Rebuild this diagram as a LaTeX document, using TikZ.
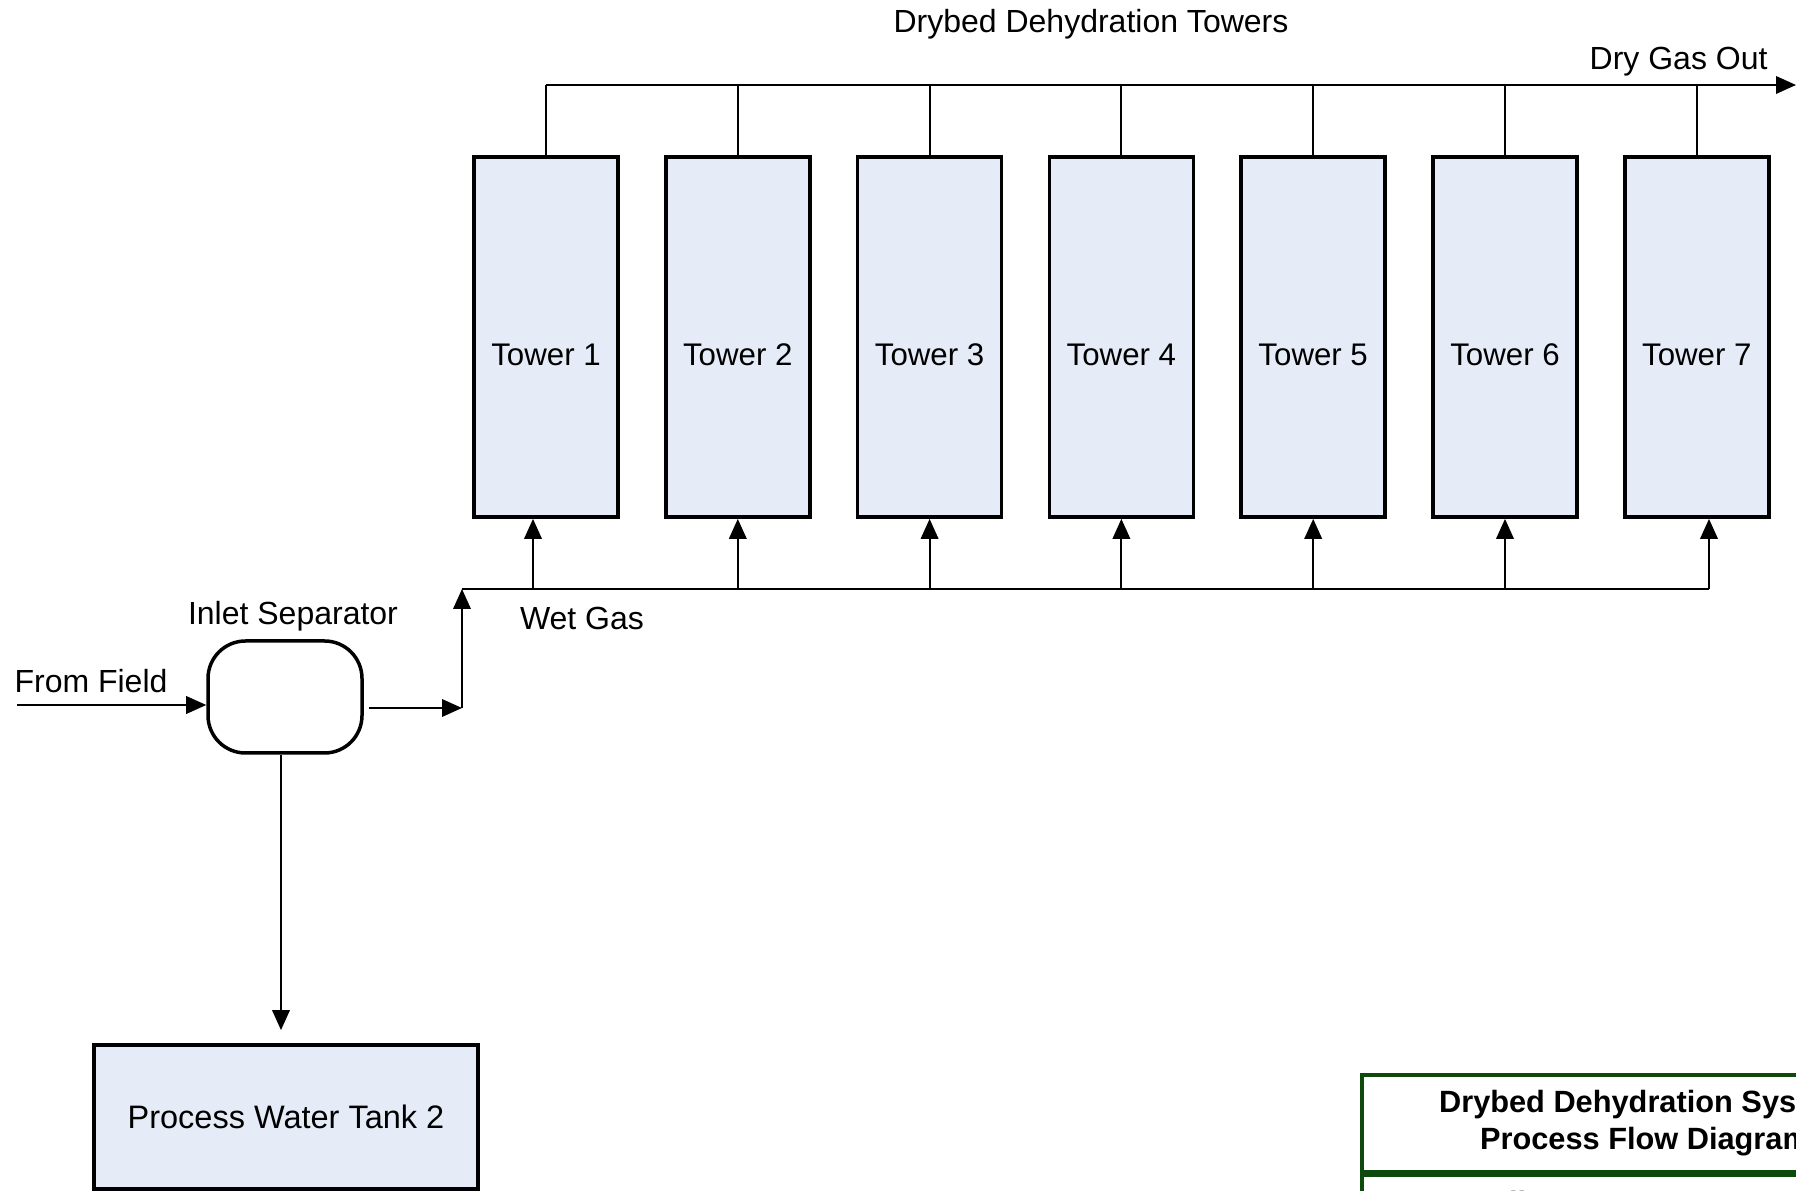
\documentclass[tikz,border=0pt]{standalone}
\usepackage{fontspec}
\setmainfont{Liberation Sans}
\usetikzlibrary{arrows.meta,positioning,calc}
\definecolor{pfdfill} {HTML}{E6ECF7}
\definecolor{pfdgreen}{HTML}{0E4A0E}
\tikzset{
  pfdtower/.style={draw=black, fill=pfdfill, line width=1.5pt, inner sep=0pt,
                   minimum width=57.6pt, minimum height=144pt,
                   text height=23pt, text depth=0.2pt,
                   font=\fontsize{12.5}{15}\selectfont},
  pfdtank/.style={draw=black, fill=pfdfill, line width=1.5pt, inner sep=0pt,
                  minimum width=153.6pt, minimum height=57.6pt,
                  font=\fontsize{13}{15}\selectfont},
  pfdsep/.style={draw=black, line width=1.4pt, rounded corners=15pt, inner sep=0pt,
                 minimum width=61.6pt, minimum height=44.8pt},
  pfdline/.style={draw=black, line width=0.8pt},
  pfdflow/.style={pfdline, -{Triangle[length=8pt,width=7pt]}},
  pfdlabel/.style={font=\fontsize{12.8}{15}\selectfont, inner sep=0pt},
  pfdblock/.style={draw=pfdgreen, line width=1.3pt, inner sep=0pt, align=center,
                   minimum width=226.4pt, font=\bfseries\fontsize{12.3}{14.8}\selectfont},
}

\begin{document}
\begin{tikzpicture}[x=0.4pt,y=-0.4pt]
  \useasboundingbox (0,0) rectangle (1796,1191);
  \clip (0,0) rectangle (1796,1191);

  % drybed towers
  \foreach \i [evaluate=\i as \cx using 546+191.8*(\i-1)] in {1,...,7}
    \node[pfdtower] (tower\i) at (\cx,337) {Tower \i};
  \node[pfdlabel,anchor=base] (towerlbl) at (1091,33) {Drybed Dehydration Towers};

  % dry gas header
  \coordinate (dryL) at (546,85);
  \coordinate (dryout) at (1796,85);
  \draw[pfdflow] (dryL) -- (dryout);
  \node[pfdlabel,anchor=base east] (drylbl) at (1768,70) {Dry Gas Out};
  \foreach \i in {1,...,7}
    \draw[pfdline] (tower\i.north) -- (tower\i.north |- dryL);

  % wet gas header
  \coordinate (wetL) at (462,589);
  \coordinate (wetR) at (1709,589);
  \draw[pfdline] (wetL) -- (wetR);
  \node[pfdlabel] (wetlbl) at (582,618) {Wet Gas};
  \draw[pfdflow] ([xshift=-5.2pt]tower1.south |- wetL) -- ([xshift=-5.2pt]tower1.south);
  \foreach \i in {2,...,6}
    \draw[pfdflow] (tower\i.south |- wetL) -- (tower\i.south);
  \draw[pfdflow] (wetR) -- (wetR |- tower7.south);

  % inlet separator
  \node[pfdsep] (sep) at (285,697) {};
  \node[pfdlabel,anchor=base] (seplbl) at (293,625) {Inlet Separator};
  \coordinate (field) at (17,705);
  \node[pfdlabel,anchor=base] (fieldlbl) at (91,693) {From Field};
  \draw[pfdflow] (field) -- (sep.west |- field);
  \coordinate (riser) at (462,708);
  \draw[pfdflow] ([xshift=2pt]sep.east |- riser) -- (riser);
  \draw[pfdflow] (riser) -- (wetL);

  % water drain
  \node[pfdtank] (tank) at (286,1117) {Process Water Tank 2};
  \draw[pfdflow] ([xshift=-1.6pt]sep.south) -- ([xshift=-2pt,yshift=5.2pt]tank.north);

  % title block
  \node[pfdblock,minimum height=38.8pt] (ttl) at (1645,1123.5)
    {Drybed Dehydration System\\Process Flow Diagram};
  \node[pfdblock,minimum height=24pt,below=0pt of ttl] (stn) {Hamlin Compressor Station};
\end{tikzpicture}
\end{document}
